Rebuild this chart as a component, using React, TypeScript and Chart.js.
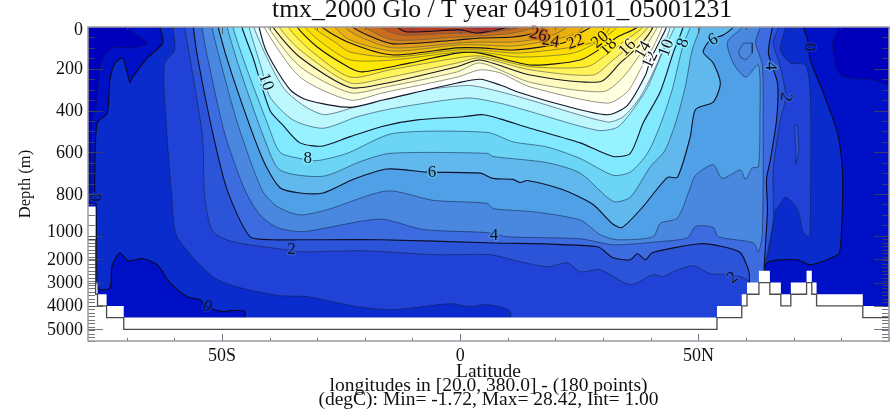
import React, { useEffect, useRef } from "react";
import { Chart, registerables } from "chart.js";

Chart.register(...registerables);

type P = [number, number];

const TITLE = "tmx_2000 Glo / T year 04910101_05001231";
const X_LINES = ["Latitude", "longitudes in [20.0, 380.0] - (180 points)", "(degC): Min= -1.72, Max= 28.42, Int= 1.00"];
const LAT_TICKS = [-70, -60, -50, -40, -30, -20, -10, 0, 10, 20, 30, 40, 50, 60, 70, 80, 90];
const DEPTH_LABELS = [0, 200, 400, 600, 800, 1000, 2000, 3000, 4000, 5000];
const DEPTH_LABEL_NUDGE = [16, 4, 4, 4, 4, -15, 4, 4, 4, 4];
const MAJOR_DEPTHS = [200, 400, 600, 800, 1000, 2000, 3000, 4000, 5000];

// isotherms: [latitude, depth in m]
const isoM1: P[] = [[-70,0],[-65.7,77],[-68.7,100],[-72.9,100],[-75.2,158],[-76.2,350],[-77.3,470],[-77.7,870],[-77.7,5500],[92,5500],[92,290],[89.9,278],[86.7,254],[79.8,230],[78.1,86],[79.4,0]];
const iso0: P[] = [[-63,0],[-62.4,77],[-65.7,150],[-68.7,240],[-69.3,265],[-70.8,150],[-72.5,175],[-73.5,255],[-74.1,415],[-76.2,460],[-76.7,770],[-76.4,855],[-76.2,3090],[-75.6,3305],[-73.5,3220],[-73.1,2325],[-72.5,2025],[-71.4,1725],[-69.7,2070],[-66.6,1980],[-63.6,2240],[-60.9,3005],[-57.3,3605],[-54.6,3735],[-53.1,4030],[-49.8,4245],[-48.3,4200],[-45.2,4245],[-44.9,5500],[63.8,5500],[63.8,2450],[64.7,2110],[70.8,2025],[73.5,2240],[79.2,1810],[79.8,1470],[80.2,875],[80.2,685],[79.2,510],[76.2,315],[73.5,160],[72.9,60],[72,0]];
const iso1: P[] = [[-60.3,0],[-59.9,110],[-62,173],[-62,350],[-60.5,815],[-59.4,1040],[-51.9,2750],[-46.2,3220],[-37.8,3560],[-32.1,3605],[-21.6,4030],[-14.1,4160],[-2.1,3905],[2.1,4030],[5.7,3945],[10.5,4245],[10.5,5500],[63.6,5500],[63.6,2450],[64.7,1725],[66.2,875],[66.8,860],[68.3,815],[70.8,875],[72,985],[73.3,1040],[73.5,925],[73.5,335],[72.5,182],[69.3,172],[67.2,110],[68.3,0]];
const iso2: P[] = [[-57.8,0],[-57.1,96],[-55.2,350],[-54,540],[-53.6,815],[-51.9,980],[-47.7,1255],[-36.3,1600],[-33.6,1685],[-20.4,1640],[-4.8,1810],[6.3,1810],[12.6,2110],[18.3,2325],[22.5,2155],[25.2,2540],[29.4,2450],[35.7,3090],[40.5,2665],[42.6,2750],[44.7,2540],[48.9,2280],[52.5,2620],[56.7,2665],[60.5,2965],[60.5,5500],[63.8,5500],[63.8,2450],[64.5,1725],[65.7,925],[65.7,685],[67.2,445],[68.3,335],[67.2,190],[65.7,77],[66.8,0]];
const iso3: P[] = [[-56,0],[-55,158],[-51.9,510],[-48.9,780],[-44.1,1040],[-39.3,1170],[-33.6,1170],[-16.8,1170],[5.7,1300],[28.8,1470],[32.1,1940],[35.7,2025],[37.2,1770],[38.9,2025],[40.3,1725],[50.4,1340],[55.2,1470],[58.8,1725],[60.5,2450],[60.7,2795],[60.7,5500],[63.8,5500],[63.8,2450],[64.1,1300],[64.5,875],[64.3,730],[65.1,635],[66.4,445],[66.6,270],[64.7,125],[65.5,0]];
const iso4: P[] = [[-54.2,0],[-52.9,158],[-49.4,510],[-45.2,780],[-42,900],[-38.4,960],[-33,980],[-16.8,920],[-7.8,970],[5.7,985],[9.9,1040],[25.2,1130],[32.1,1385],[41.4,1255],[47.7,1085],[49.4,955],[53.1,960],[54.2,1040],[61.5,1300],[62.6,1685],[63.4,990],[63.6,445],[63.4,182],[62,72],[63,0]];
const iso5: P[] = [[-52.1,0],[-50.4,158],[-46.6,470],[-41.6,780],[-38.4,860],[-33.6,900],[-27.9,875],[-15.3,785],[-5.7,830],[5.7,845],[6.9,870],[15.3,885],[25.2,925],[29.4,995],[33,1170],[40.5,1040],[42,940],[45.6,915],[48.3,770],[49.4,710],[53.1,660],[55,725],[58.8,685],[59.9,730],[61.3,675],[62.6,670],[62.9,445],[62.6,182],[59.9,240],[57.3,172],[56.1,72],[59.2,0]];
const iso6: P[] = [[-50.8,0],[-47.7,240],[-41.4,635],[-37.8,770],[-33.6,795],[-28.8,795],[-22.5,730],[-15.3,680],[-6.9,695],[4.2,700],[6.9,725],[11.1,730],[12.6,745],[14.1,735],[21.6,780],[27.9,850],[32.1,945],[34,960],[38.4,860],[43.5,720],[45.6,720],[48.3,525],[49.4,395],[53.1,360],[54.6,270],[53.1,172],[51,120],[52.5,62],[55.2,38],[57.3,0]];
const iso7: P[] = [[-48.9,0],[-46.2,205],[-41,540],[-37.8,685],[-28.8,715],[-21,645],[-14.7,605],[5.7,605],[6.9,620],[18.3,650],[25.2,700],[32.1,835],[35.7,815],[39.9,670],[43,590],[45.4,445],[47.3,280],[48.7,110],[50.4,0]];
const iso8: P[] = [[-47.7,0],[-44.7,205],[-40.3,470],[-37.8,600],[-33.6,630],[-30,640],[-23.7,605],[-14.1,510],[5.7,505],[11.1,550],[18.3,575],[25.2,630],[32.1,710],[35.7,695],[39.3,605],[42,470],[44.5,300],[46.8,85],[48.3,0]];
const iso9: P[] = [[-45.8,0],[-43.5,145],[-39.9,400],[-37.2,470],[-33.6,555],[-28.8,570],[-23.1,525],[-16.2,475],[-9,445],[0.6,430],[4.8,420],[8.4,440],[14.7,485],[25.2,555],[32.1,620],[35.7,605],[38.4,460],[42,310],[44.7,125],[46.8,0]];
const iso10: P[] = [[-44.3,0],[-41.6,205],[-39.9,335],[-35.1,445],[-28.8,485],[-21.6,430],[-14.1,390],[1.5,340],[8.4,365],[13.2,395],[28.8,495],[33,480],[36.3,395],[39.3,290],[42.4,125],[45,0]];
const iso11: P[] = [[-43.3,0],[-40.3,158],[-36.8,300],[-32.6,380],[-28.4,420],[-21,375],[-13.7,325],[1.5,280],[8.4,310],[14.7,350],[30.9,455],[34.2,430],[37.8,335],[41.4,172],[44.1,0]];
const iso12: P[] = [[-42.2,0],[-40.5,125],[-35.7,300],[-32.1,350],[-23.1,385],[-16.2,350],[-0.6,268],[4.2,250],[8.4,278],[12.6,315],[21.6,375],[30.9,420],[35.1,375],[38.9,230],[39.9,158],[42,62],[43.3,0]];
const iso13: P[] = [[-41.2,0],[-33.6,240],[-23.1,350],[-16.2,315],[-0.6,240],[4.2,205],[8.4,220],[14.7,287],[30.9,365],[35.1,310],[37.8,205],[40.5,96],[42.4,0]];
const iso14: P[] = [[-40.3,0],[-33.6,190],[-23.1,315],[-16.2,290],[-0.6,215],[4.2,172],[14.7,265],[30,310],[34.2,240],[38.4,110],[41.4,0]];
const iso15: P[] = [[-39.3,0],[-33.6,145],[-23.1,290],[-16.2,272],[-0.6,190],[4.2,158],[14.7,230],[29.4,262],[33.6,172],[37.8,85],[40.5,0]];
const iso16: P[] = [[-38,0],[-33.6,110],[-23.1,268],[-15.8,245],[-0.6,172],[4.2,148],[14.7,205],[27.9,230],[32.1,158],[35.1,100],[39.5,0]];
const iso17: P[] = [[-36.1,0],[-31.5,110],[-23.1,240],[-14.7,205],[-0.6,148],[4.2,139],[14.7,190],[26.7,190],[31.1,125],[34.2,72],[38.4,0]];
const iso18: P[] = [[-34.2,0],[-30,96],[-23.1,196],[-20.4,215],[-10.5,172],[-0.6,125],[4.2,125],[14.7,182],[25.2,158],[30,96],[33,48],[37.2,0]];
const iso19: P[] = [[-32.6,0],[-28.4,86],[-23.1,158],[-14.1,158],[-0.6,120],[4.2,120],[12.6,144],[23.7,125],[28.8,72],[33,0]];
const iso20: P[] = [[-30.9,0],[-26.3,72],[-23.1,120],[-14.1,144],[-0.6,110],[4.2,110],[12,125],[22.5,100],[29.4,62],[31.5,0]];
const iso21: P[] = [[-29,0],[-23.1,77],[-14.1,134],[-0.6,100],[4.2,100],[11.1,110],[21.6,77],[25.2,29],[27.3,0]];
const iso22: P[] = [[-26.3,0],[-23.1,62],[-14.1,115],[-0.6,86],[4.2,86],[11.1,91],[19.5,62],[24.6,29],[25.8,0]];
const iso23: P[] = [[-24.2,0],[-21,48],[-14.1,100],[-0.6,77],[4.2,72],[11.1,72],[18.3,48],[22.5,0]];
const iso24: P[] = [[-22.5,0],[-19.5,38],[-14.1,81],[-0.6,62],[4.2,53],[11.1,48],[16.4,24],[17.4,0]];
const iso25: P[] = [[-20,0],[-14.1,62],[-0.6,48],[4.2,43],[11.1,29],[15.3,0]];
const iso26: P[] = [[-16.8,0],[-12.6,38],[-0.6,29],[4.2,29],[9.9,14],[12.6,0]];
const iso27: P[] = [[-13.2,0],[-11.1,24],[0,14],[3.6,29],[8.4,10],[9.9,0]];
const iso28: P[] = [[2.1,0],[3.8,14],[6.3,19],[8.4,0]];
const island5: P[] = [[58.4,120],[59.4,77],[61.3,77],[61.3,125],[59.9,158],[58.8,144],[58.4,120]];
const tongue2: P[] = [[70.2,470],[70.5,655],[71.1,590],[70.8,470],[70.2,470]];

const ISOTHERMS: P[][] = [isoM1, iso0, iso1, iso2, iso3, iso4, iso5, iso6, iso7, iso8, iso9, iso10, iso11, iso12, iso13, iso14, iso15, iso16, iso17, iso18, iso19, iso20, iso21, iso22, iso23, iso24, iso25, iso26, iso27, iso28];
const LEVELS = [-1, 0, 1, 2, 3, 4, 5, 6, 7, 8, 9, 10, 11, 12, 13, 14, 15, 16, 17, 18, 19, 20, 21, 22, 23, 24, 25, 26, 27, 28];
const COLD_COLOR = "rgb(0,0,188)";
const BAND_COLORS = [
  "rgb(0,16,198)", "rgb(10,44,205)", "rgb(32,66,214)", "rgb(44,84,216)", "rgb(60,108,224)",
  "rgb(74,136,224)", "rgb(80,160,232)", "rgb(96,184,236)", "rgb(108,212,245)", "rgb(128,232,255)",
  "rgb(150,242,255)", "rgb(190,248,255)", "rgb(225,252,255)", "rgb(255,255,255)", "rgb(255,255,225)",
  "rgb(255,250,190)", "rgb(255,247,150)", "rgb(255,243,90)", "rgb(255,238,40)", "rgb(255,232,0)",
  "rgb(252,222,0)", "rgb(248,208,8)", "rgb(242,192,12)", "rgb(235,176,16)", "rgb(226,158,22)",
  "rgb(215,136,26)", "rgb(202,110,30)", "rgb(190,86,35)", "rgb(180,62,42)", "rgb(176,42,46)",
];

// staircase ocean floor
const FLOOR_EDGES = [-78.1, -76.5, -76.1, -74.2, -70.6, 53.9, 59.1, 60.2, 62.7, 65, 67.3, 69.4, 72.7, 73.8, 74.8, 84.5, 90];
const FLOOR_FILL = [860, 3000, 3500, 4000, 4500, 4000, 3500, 3000, 2500, 3000, 3500, 3000, 2500, 3000, 3500, 4000];
const FLOOR_LINE = [1170, 3500, 4000, 4500, 5000, 4500, 4000, 3500, 3000, 3500, 4000, 3500, 3000, 3500, 4000, 4500];

// contour labels
const LABEL_TEXT = ["0", "0", "0", "2", "2", "2", "4", "4", "6", "6", "8", "8", "10", "10", "12", "14", "16", "18", "20", "22", "24", "26"];
const LABEL_LAT = [-76.7, -53.1, 73.3, -35.4, 68.3, 57.2, 7.1, 65.1, -5.9, 53.1, -32, 46.8, -40.8, 43.3, 39.9, 38.4, 35.1, 31.1, 29.4, 24.2, 19, 16.4];
const LABEL_DEPTH = [815, 4030, 96, 1600, 335, 2800, 1000, 187, 695, 62, 630, 77, 263, 100, 158, 110, 100, 96, 62, 72, 67, 38];
const LABEL_ANGLE = [90, 30, 90, 0, 100, -40, 0, 90, 0, -30, 0, -70, 70, -70, -65, -60, -45, -45, -40, -20, 10, 15];
const LABEL_BAND = [1, 1, 1, 3, 3, 3, 5, 5, 7, 7, 9, 9, 11, 11, 13, 14, 16, 18, 20, 22, 24, 26];

const Y_BREAK = 1000;
const Y_RATIO = 0.112;
const Y_MAX_DEPTH = 5500;
const yy = (d: number) => (d <= Y_BREAK ? d : Y_BREAK + (d - Y_BREAK) * Y_RATIO);
const FONT = "'Liberation Serif', serif";

const xy = (pts: P[]) => pts.map(([x, y]) => ({ x, y: yy(y) }));
const closeTop = (pts: P[]): P[] => [[pts[0][0], -40], ...pts, [pts[pts.length - 1][0], -40]];

function stairs(depths: number[]): P[] {
  const out: P[] = [];
  depths.forEach((d, i) => {
    out.push([FLOOR_EDGES[i], d], [FLOOR_EDGES[i + 1], d]);
  });
  return out;
}

const axisPlugin = {
  id: "axisMarks",
  beforeDatasetsDraw(chart: any) {
    const { ctx, chartArea: a } = chart;
    ctx.save();
    ctx.fillStyle = COLD_COLOR;
    ctx.fillRect(a.left, a.top, a.right - a.left, a.bottom - a.top);
    ctx.restore();
  },
  afterDatasetsDraw(chart: any) {
    const { ctx, chartArea: a, scales } = chart;
    ctx.save();
    // contour labels
    LABEL_TEXT.forEach((t, i) => {
      const px = scales.x.getPixelForValue(LABEL_LAT[i]);
      const py = scales.y.getPixelForValue(yy(LABEL_DEPTH[i]));
      ctx.save();
      ctx.translate(px, py);
      ctx.rotate((LABEL_ANGLE[i] * Math.PI) / 180);
      ctx.font = `17px ${FONT}`;
      ctx.textAlign = "center";
      ctx.textBaseline = "middle";
      ctx.lineJoin = "round";
      ctx.lineWidth = 3;
      ctx.strokeStyle = BAND_COLORS[LABEL_BAND[i]];
      ctx.strokeText(t, 0, 0);
      ctx.fillStyle = "#10101c";
      ctx.fillText(t, 0, 0);
      ctx.restore();
    });
    // ticks
    ctx.strokeStyle = "rgba(70,70,80,0.75)";
    ctx.lineWidth = 1;
    const hTick = (d: number, len: number) => {
      const y = Math.round(scales.y.getPixelForValue(yy(d))) + 0.5;
      ctx.beginPath();
      ctx.moveTo(a.left, y);
      ctx.lineTo(a.left + len, y);
      ctx.moveTo(a.right, y);
      ctx.lineTo(a.right - len, y);
      ctx.stroke();
    };
    for (let d = 50; d < 1000; d += 50) hTick(d, 7);
    for (let d = 1000; d <= Y_MAX_DEPTH; d += 150) hTick(d, 7);
    MAJOR_DEPTHS.forEach((d) => hTick(d, 15));
    LAT_TICKS.forEach((lat) => {
      const x = Math.round(scales.x.getPixelForValue(lat)) + 0.5;
      const len = lat % 50 === 0 ? 7 : 3;
      ctx.beginPath();
      ctx.moveTo(x, a.bottom);
      ctx.lineTo(x, a.bottom - len);
      ctx.moveTo(x, a.top);
      ctx.lineTo(x, a.top + len);
      ctx.stroke();
    });
    ctx.strokeStyle = "#9a9aa2";
    ctx.lineWidth = 1.5;
    ctx.strokeRect(a.left, a.top, a.right - a.left, a.bottom - a.top);
    ctx.restore();
  },
};

export default function App() {
  const ref = useRef<HTMLCanvasElement>(null);
  useEffect(() => {
    if (!ref.current) return;
    const lineFor = (t: number) => (t % 3 === 0 ? "rgba(8,8,30,0.95)" : t >= 13 ? "rgba(90,90,70,0.8)" : "rgba(15,25,60,0.65)");
    const datasets: any[] = LEVELS.map((t, i) => ({
      data: xy(closeTop(ISOTHERMS[i])),
      showLine: true,
      pointRadius: 0,
      fill: "shape",
      tension: 0.25,
      backgroundColor: BAND_COLORS[i],
      borderColor: lineFor(t),
      borderWidth: t % 3 === 0 ? 1.1 : 0.8,
      order: -t,
    }));
    datasets.push({
      data: xy(island5),
      showLine: true,
      pointRadius: 0,
      fill: "shape",
      backgroundColor: BAND_COLORS[LEVELS.indexOf(4)],
      borderColor: lineFor(5),
      borderWidth: 0.8,
      order: -50,
    });
    datasets.push({
      data: xy(tongue2),
      showLine: true,
      pointRadius: 0,
      fill: "shape",
      backgroundColor: BAND_COLORS[LEVELS.indexOf(2)],
      borderColor: lineFor(2),
      borderWidth: 0.8,
      order: -51,
    });
    const fillStairs = stairs(FLOOR_FILL);
    datasets.push({
      data: xy([...fillStairs, [90, 5600], [-78.1, 5600]]),
      showLine: true,
      pointRadius: 0,
      fill: "shape",
      backgroundColor: "#ffffff",
      borderWidth: 0,
      borderColor: "rgba(0,0,0,0)",
      order: -60,
    });
    datasets.push({
      data: xy(stairs(FLOOR_LINE)),
      showLine: true,
      pointRadius: 0,
      fill: false,
      borderColor: "#4a4a4a",
      borderWidth: 1.3,
      order: -61,
    });

    const chart = new Chart(ref.current, {
      type: "scatter",
      data: { datasets },
      plugins: [
        axisPlugin,
        {
          id: "titleShift",
          afterLayout(c: any) {
            if (c.titleBlock) {
              c.titleBlock.left = 272;
            }
          },
        },
      ],
      options: {
        responsive: false,
        animation: false,
        events: [],
        layout: { padding: { left: 0, top: 0, right: 4, bottom: 0 } },
        plugins: {
          legend: { display: false },
          tooltip: { enabled: false },
          title: {
            display: true,
            text: TITLE,
            align: "start",
            color: "#111",
            font: { family: FONT, size: 25.7, weight: "normal", lineHeight: "21px" },
            padding: { top: 0, bottom: 6 },
          },
        },
        scales: {
          x: {
            type: "linear",
            min: -78.1,
            max: 90,
            grid: { display: false, drawTicks: false },
            border: { display: false },
            afterBuildTicks(s: any) {
              s.ticks = LAT_TICKS.map((value) => ({ value }));
            },
            afterFit(s: any) {
              s.height = 68;
            },
            ticks: {
              autoSkip: false,
              maxRotation: 0,
              padding: 4,
              color: "#111",
              font: { family: FONT, size: 18 },
              callback: (v: any) => (v === -50 ? "50S" : v === 0 ? "0" : v === 50 ? "50N" : ""),
            },
            title: {
              display: true,
              text: X_LINES,
              color: "#111",
              font: { family: FONT, size: 19.5, lineHeight: "14px" },
              padding: { top: 0, bottom: 2 },
            },
          },
          y: {
            type: "linear",
            reverse: true,
            min: 0,
            max: yy(Y_MAX_DEPTH),
            grid: { display: false, drawTicks: false },
            border: { display: false },
            afterBuildTicks(s: any) {
              s.ticks = DEPTH_LABELS.map((d, i) => ({ value: yy(d) + DEPTH_LABEL_NUDGE[i] }));
            },
            afterFit(s: any) {
              s.width = 88;
            },
            ticks: {
              autoSkip: false,
              padding: 5,
              color: "#111",
              font: { family: FONT, size: 18 },
              callback: (_v: any, i: number) => String(DEPTH_LABELS[i]),
            },
            title: {
              display: true,
              text: "Depth (m)",
              color: "#111",
              font: { family: FONT, size: 16.5 },
              padding: { top: 16, bottom: 0 },
            },
          },
        },
      } as any,
    });
    return () => chart.destroy();
  }, []);
  return (
    <div style={{ position: "absolute", left: 0, top: 0, width: 893, height: 409 }}>
      <canvas ref={ref} width={893} height={409} style={{ display: "block", filter: "blur(0.6px)" }} />
    </div>
  );
}
